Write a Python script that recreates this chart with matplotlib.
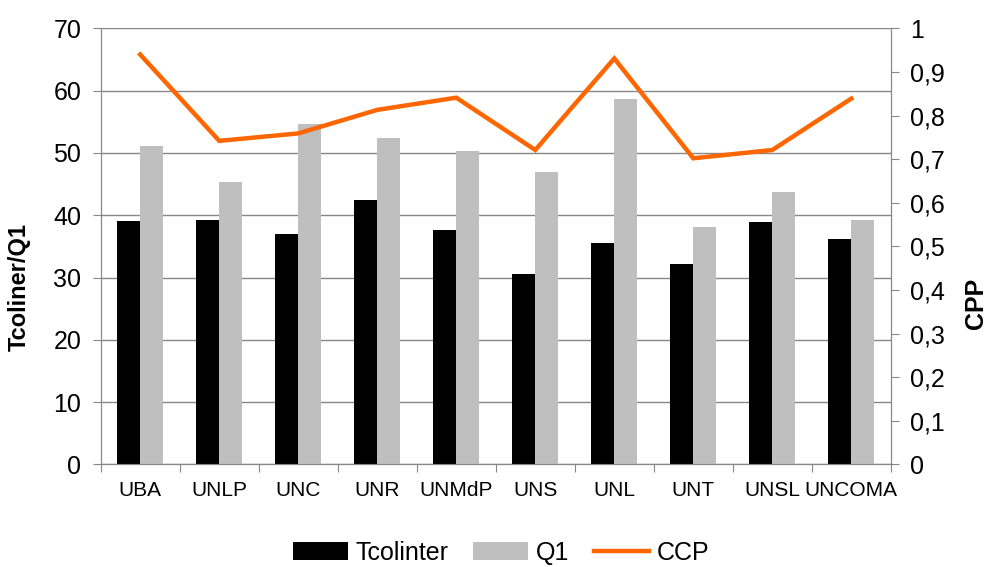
import numpy as np
import matplotlib.pyplot as plt
from matplotlib.ticker import FuncFormatter

plt.rcParams['font.family'] = ['Liberation Sans', 'DejaVu Sans']

# Data
universidades = ['UBA', 'UNLP', 'UNC', 'UNR', 'UNMdP', 'UNS', 'UNL', 'UNT', 'UNSL', 'UNCOMA']
tcolinter = [39.1, 39.2, 37.0, 42.4, 37.6, 30.5, 35.5, 32.2, 38.9, 36.2]
q1 = [51.1, 45.3, 54.7, 52.4, 50.3, 46.9, 58.6, 38.1, 43.7, 39.2]
ccp = [0.94, 0.742, 0.759, 0.813, 0.841, 0.721, 0.931, 0.702, 0.721, 0.839]

grid_col = '#878787'
orange = '#FF6600'

fig = plt.figure(figsize=(9.92, 5.67), dpi=100)
ax = fig.add_axes([0.1015, 0.181, 0.7965, 0.769])
ax2 = ax.twinx()

x = np.arange(len(universidades))
w = 0.29
b1 = ax.bar(x - w / 2, tcolinter, width=w, color='black', label='Tcolinter', zorder=3)
b2 = ax.bar(x + w / 2, q1, width=w, color='#BFBFBF', label='Q1', zorder=3)
l1, = ax2.plot(x, ccp, color=orange, lw=3.2, label='CCP', solid_joinstyle='miter')

ax.set_xlim(-0.5, len(universidades) - 0.5)
ax.set_ylim(0, 70)
ax.set_yticks(np.arange(0, 71, 10))
ax2.set_ylim(0, 1)
ax2.set_yticks(np.arange(0, 1.01, 0.1))
ax2.yaxis.set_major_formatter(FuncFormatter(lambda v, p: ('%g' % round(v, 1)).replace('.', ',')))

ax.yaxis.grid(True, color=grid_col, lw=1.0, zorder=0)
ax.set_axisbelow(True)

# category ticks between groups
ax.set_xticks(np.arange(-0.5, len(universidades), 1))
ax.set_xticklabels([])
ax.set_xticks(x, minor=True)
ax.set_xticklabels(universidades, minor=True, fontsize=15)
ax.tick_params(axis='x', which='minor', length=0, pad=12)
ax.tick_params(axis='x', which='major', length=6, color=grid_col, direction='out')
ax.tick_params(axis='y', labelsize=18, length=6, color=grid_col, pad=8)
ax2.tick_params(axis='y', labelsize=18, length=6, color=grid_col, pad=8)

for a in (ax, ax2):
    a.spines['top'].set_visible(False)
    for s in ('left', 'right', 'bottom'):
        a.spines[s].set_color(grid_col)

# axis titles placed like in the original (a bit below the axes centre)
fig.text(0.019, 1 - 287 / 567, 'Tcoliner/Q1', fontsize=17, fontweight='bold',
         rotation=90, ha='center', va='center')
fig.text(0.984, 1 - 303 / 567, 'CPP', fontsize=18, fontweight='bold',
         rotation=90, ha='center', va='center')

fig.legend([b1, b2, l1], ['Tcolinter', 'Q1', 'CCP'], loc='center', bbox_to_anchor=(0.505, 0.025),
           ncol=3, frameon=False, fontsize=18, handlelength=2.2, handleheight=0.75,
           handletextpad=0.3, columnspacing=1.0)

fig.savefig('out.png', dpi=100)
